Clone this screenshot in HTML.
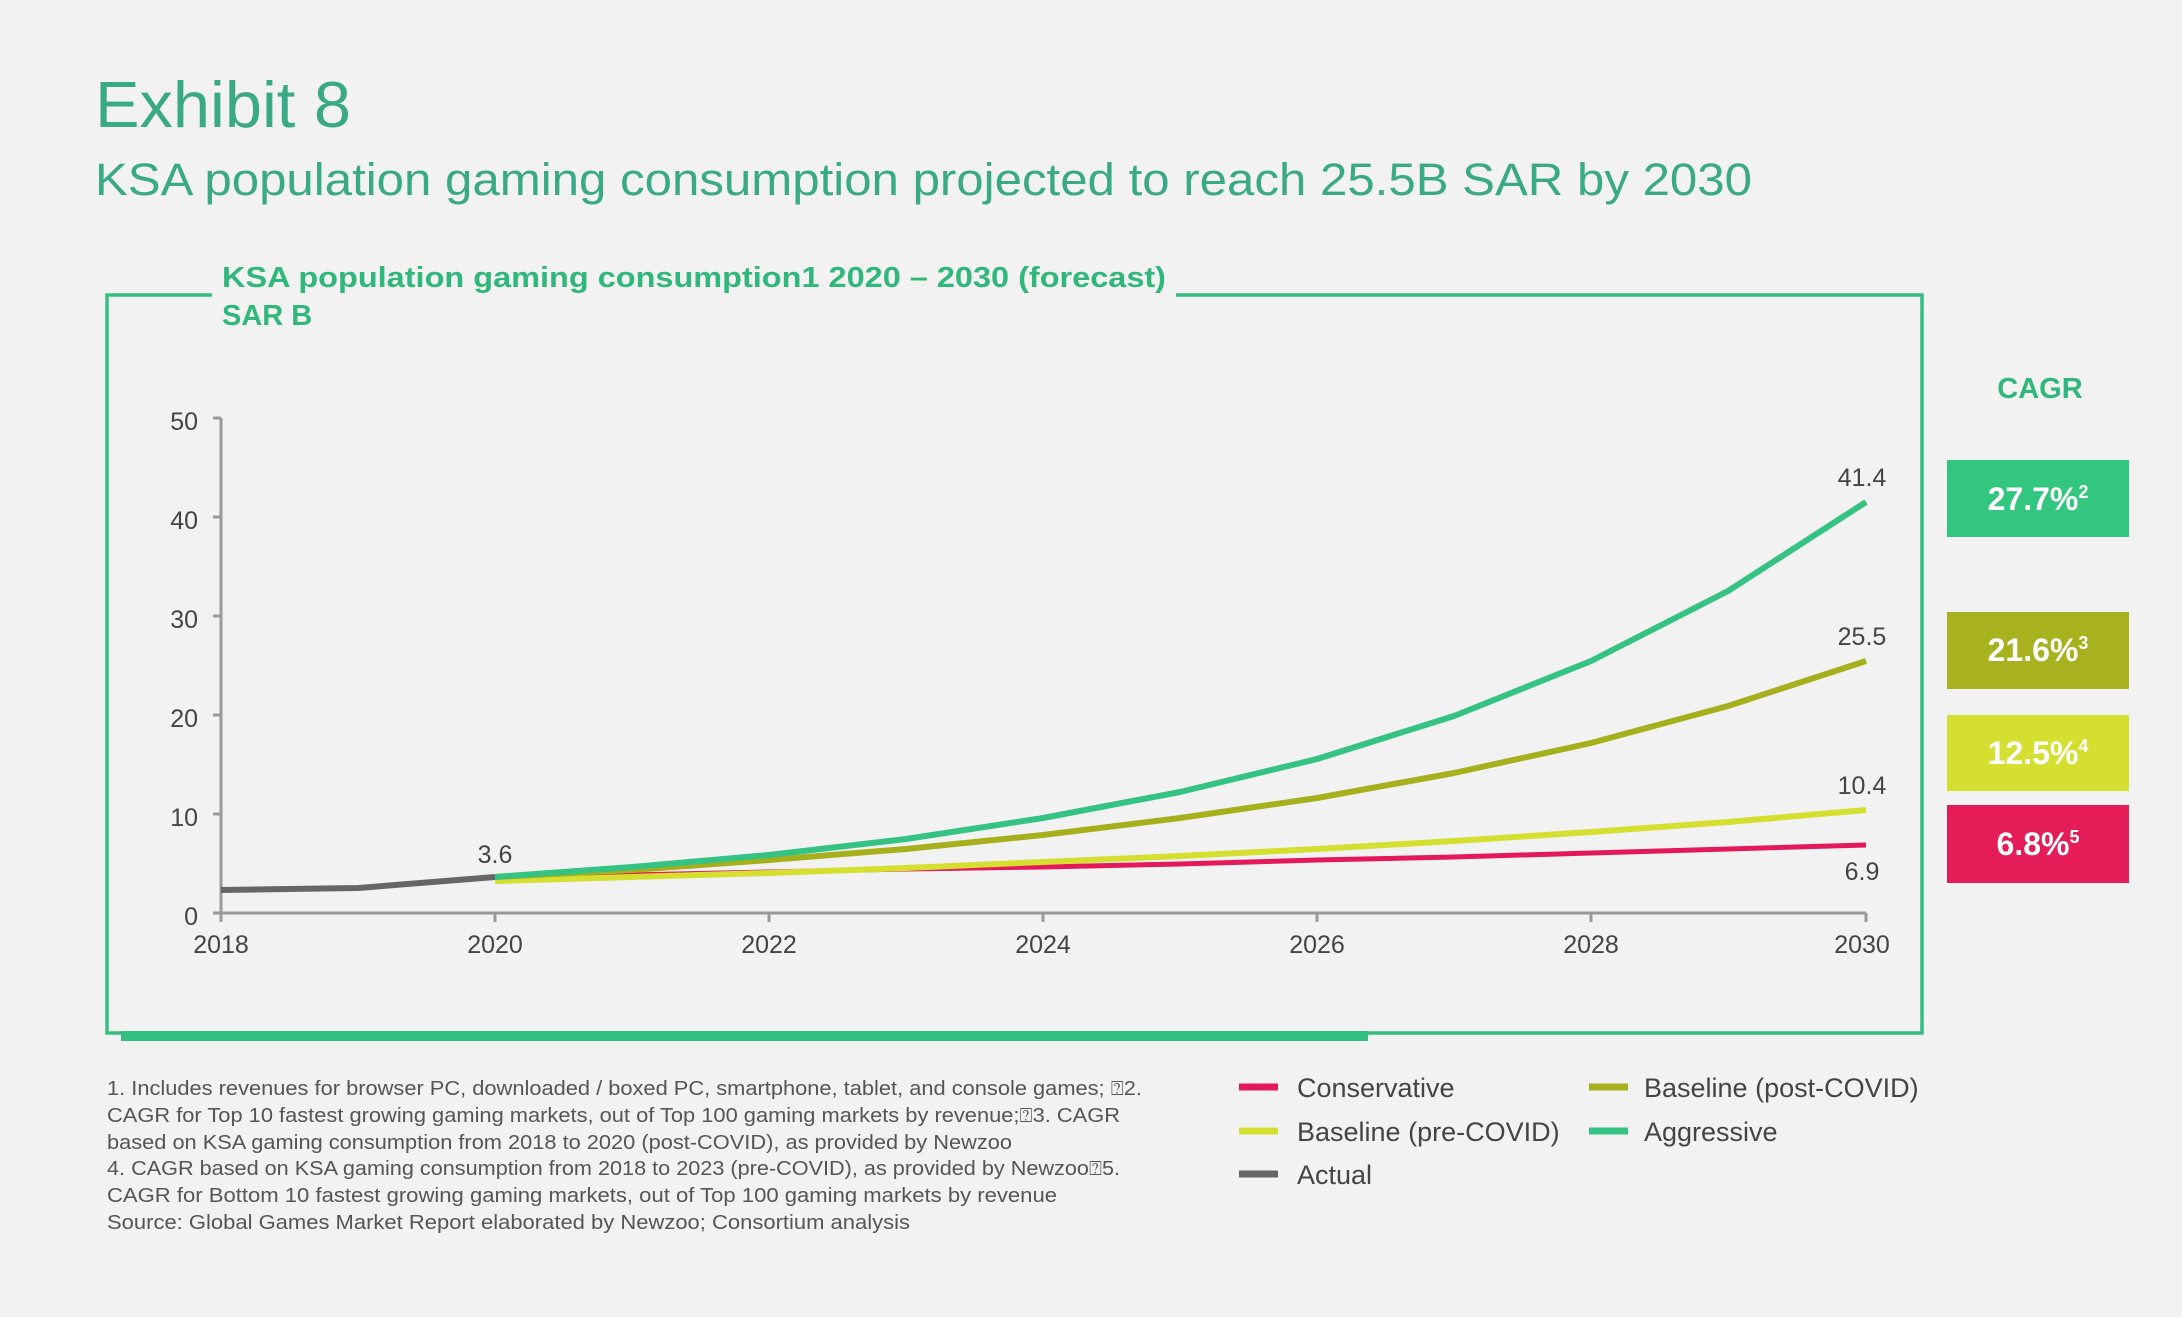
<!DOCTYPE html>
<html><head><meta charset="utf-8"><style>
html,body{margin:0;padding:0;background:#f2f2f2;}
svg{display:block;}
text{font-family:"Liberation Sans",sans-serif;}
</style></head><body>
<svg width="2182" height="1317" viewBox="0 0 2182 1317" xmlns="http://www.w3.org/2000/svg">
<rect width="2182" height="1317" fill="#f2f2f2"/>
<text x="95" y="127" font-size="65" fill="#3aa986" textLength="256" lengthAdjust="spacingAndGlyphs">Exhibit 8</text>
<text x="95" y="195" font-size="45" fill="#3aa986" textLength="1657" lengthAdjust="spacingAndGlyphs">KSA population gaming consumption projected to reach 25.5B SAR by 2030</text>
<!-- box -->
<path d="M212 295 H107 V1033 H1922 V295 H1176" fill="none" stroke="#33bf7f" stroke-width="3.5"/>
<rect x="121" y="1031" width="1247" height="10" fill="#33bf7f"/>
<text x="222" y="287" font-size="29" font-weight="bold" fill="#2fb87a" textLength="944" lengthAdjust="spacingAndGlyphs">KSA population gaming consumption1 2020 – 2030 (forecast)</text>
<text x="222" y="325" font-size="29" font-weight="bold" fill="#2fb87a">SAR B</text>
<!-- axes -->
<g stroke="#9a9a9a" stroke-width="3" fill="none">
<path d="M221 418 V913 H1866"/>
<path d="M213 418 H221 M213 517 H221 M213 616 H221 M213 715 H221 M213 814 H221 M213 913 H221"/>
<path d="M221 913 V922 M495 913 V922 M769 913 V922 M1043 913 V922 M1317 913 V922 M1591 913 V922 M1866 913 V922"/>
</g>
<g font-size="25" fill="#444" text-anchor="end">
<text x="198" y="430">50</text><text x="198" y="529">40</text><text x="198" y="628">30</text>
<text x="198" y="727">20</text><text x="198" y="826">10</text><text x="198" y="925">0</text>
</g>
<g font-size="25" fill="#444" text-anchor="middle">
<text x="221" y="953">2018</text><text x="495" y="953">2020</text><text x="769" y="953">2022</text>
<text x="1043" y="953">2024</text><text x="1317" y="953">2026</text><text x="1591" y="953">2028</text><text x="1862" y="953">2030</text>
</g>
<!-- series -->
<g fill="none" stroke-width="6" stroke-linejoin="round" stroke-linecap="butt">
<polyline stroke="#e3195a" stroke-width="5" points="495,877 632,875 769,872 906,869 1043,867 1180,864 1317,860 1454,857 1591,853 1728,849 1866,845"/>
<polyline stroke="#d4df30" points="495,881 632,877 769,873 906,868 1043,862 1180,856 1317,849 1454,841 1591,832 1728,822 1866,810"/>
<polyline stroke="#a6b01d" points="495,877 632,870 769,860 906,849 1043,835 1180,818 1317,798 1454,773 1591,743 1728,706 1866,661"/>
<polyline stroke="#34c382" points="495,877 632,867 769,855 906,839 1043,818 1180,792 1317,759 1454,716 1591,661 1728,591 1866,502"/>
<polyline stroke="#666" points="221,890 358,888 495,877"/>
</g>
<g font-size="25" fill="#444" text-anchor="middle">
<text x="495" y="863">3.6</text>
<text x="1862" y="486">41.4</text>
<text x="1862" y="645">25.5</text>
<text x="1862" y="794">10.4</text>
<text x="1862" y="880">6.9</text>
</g>
<!-- CAGR -->
<text x="2040" y="398" font-size="29" font-weight="bold" fill="#2fb87a" text-anchor="middle">CAGR</text>
<rect x="1947" y="460" width="182" height="77" fill="#33c67f"/>
<rect x="1947" y="612" width="182" height="77" fill="#a8b11e"/>
<rect x="1947" y="715" width="182" height="76" fill="#d4df30"/>
<rect x="1947" y="805" width="182" height="78" fill="#e41c58"/>
<g font-size="32" font-weight="bold" fill="#fff" text-anchor="middle">
<text x="2038" y="510">27.7%<tspan font-size="18" dy="-12">2</tspan></text>
<text x="2038" y="661">21.6%<tspan font-size="18" dy="-12">3</tspan></text>
<text x="2038" y="764">12.5%<tspan font-size="18" dy="-12">4</tspan></text>
<text x="2038" y="855">6.8%<tspan font-size="18" dy="-12">5</tspan></text>
</g>
<!-- footnotes -->
<g font-size="20" fill="#555">
<text x="107" y="1095" textLength="1035" lengthAdjust="spacingAndGlyphs">1. Includes revenues for browser PC, downloaded / boxed PC, smartphone, tablet, and console games; ⍰2.</text>
<text x="107" y="1122" textLength="1013" lengthAdjust="spacingAndGlyphs">CAGR for Top 10 fastest growing gaming markets, out of Top 100 gaming markets by revenue;⍰3. CAGR</text>
<text x="107" y="1149" textLength="905" lengthAdjust="spacingAndGlyphs">based on KSA gaming consumption from 2018 to 2020 (post-COVID), as provided by Newzoo</text>
<text x="107" y="1175" textLength="1013" lengthAdjust="spacingAndGlyphs">4. CAGR based on KSA gaming consumption from 2018 to 2023 (pre-COVID), as provided by Newzoo⍰5.</text>
<text x="107" y="1202" textLength="950" lengthAdjust="spacingAndGlyphs">CAGR for Bottom 10 fastest growing gaming markets, out of Top 100 gaming markets by revenue</text>
<text x="107" y="1229" textLength="803" lengthAdjust="spacingAndGlyphs">Source: Global Games Market Report elaborated by Newzoo; Consortium analysis</text>
</g>
<!-- legend -->
<g stroke-width="7">
<line x1="1239" y1="1087" x2="1278" y2="1087" stroke="#e3195a"/>
<line x1="1239" y1="1131" x2="1278" y2="1131" stroke="#d4df30"/>
<line x1="1239" y1="1174" x2="1278" y2="1174" stroke="#666"/>
<line x1="1589" y1="1087" x2="1628" y2="1087" stroke="#a6b01d"/>
<line x1="1589" y1="1131" x2="1628" y2="1131" stroke="#34c382"/>
</g>
<g font-size="27" fill="#444">
<text x="1297" y="1097">Conservative</text>
<text x="1297" y="1141">Baseline (pre-COVID)</text>
<text x="1297" y="1184">Actual</text>
<text x="1644" y="1097">Baseline (post-COVID)</text>
<text x="1644" y="1141">Aggressive</text>
</g>
</svg>
</body></html>
